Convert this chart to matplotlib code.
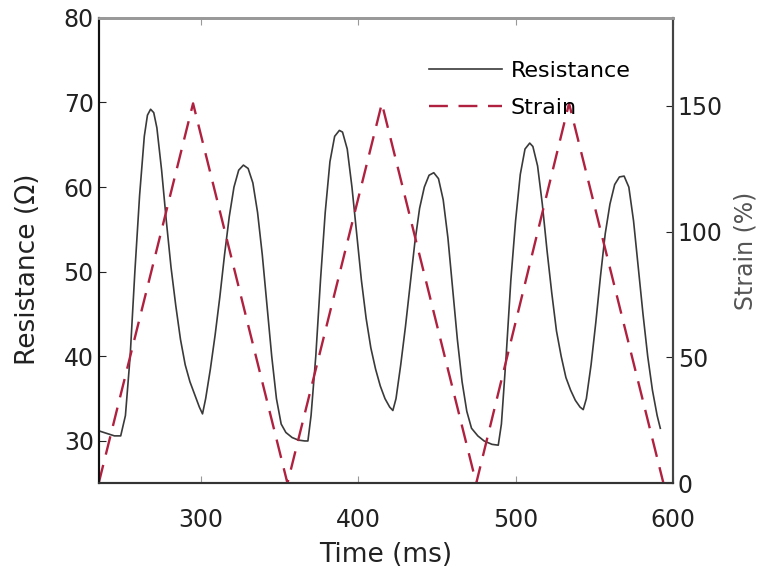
#!/usr/bin/env python3
import matplotlib as mpl
mpl.use('Agg')
import matplotlib.pyplot as plt

# resistance trace
res_time = [235, 240, 245, 249, 252, 255, 258, 261, 264, 266, 268, 270, 272,
            275, 278, 281, 284, 287, 290, 293, 296, 299, 301, 303, 306, 309,
            312, 315, 318, 321, 324, 327, 330, 333, 336, 339, 342, 345, 348,
            351, 354, 358, 362, 366, 368, 370, 373, 376, 379, 382, 385, 388,
            390, 393, 396, 399, 402, 405, 408, 411, 414, 417, 420, 422, 424,
            427, 430, 433, 436, 439, 442, 445, 448, 451, 454, 457, 460, 463,
            466, 469, 472, 476, 480, 485, 489, 491, 494, 497, 500, 503, 506,
            509, 511, 514, 517, 520, 523, 526, 529, 532, 535, 538, 541, 543,
            545, 548, 551, 554, 557, 560, 563, 566, 569, 572, 575, 578, 581,
            584, 587, 590, 592]
res_ohm = [31.2, 30.9, 30.6, 30.6, 33, 40, 50, 59, 66, 68.5, 69.2, 68.8, 67,
           62, 56, 50.5, 46, 42, 39, 37, 35.5, 34, 33.2, 35, 38.5, 42.5,
           47, 52, 56.5, 60, 62, 62.6, 62.2, 60.5, 57, 52, 46, 40, 35,
           32, 31, 30.4, 30.1, 30.0, 30.0, 33, 40, 49, 57, 63, 66, 66.7,
           66.5, 64.5, 60, 54.5, 49, 44.5, 41, 38.5, 36.5, 35, 34, 33.6, 35,
           39, 43.5, 48.5, 53.5, 57.5, 60, 61.4, 61.7, 61, 58.5, 54, 48, 42,
           37, 33.5, 31.5, 30.6, 30, 29.6, 29.5, 32, 40, 49, 56, 61.5, 64.5,
           65.2, 64.8, 62.5, 58, 52.5, 47.5, 43, 40, 37.5, 36, 34.8, 34, 33.7,
           35, 39, 44, 49.5, 54.5, 58, 60.3, 61.2, 61.3, 60, 56, 50.5, 45,
           40, 36, 33, 31.5]

# strain ramps (triangle corners)
strain_time = [235, 295, 355, 415, 475, 534, 594]
strain_pct = [0, 151, 0, 151, 0, 151, 0]

fig = plt.figure(figsize=(7.77, 5.76), dpi=100)
ax = fig.add_axes([0.127, 0.161, 0.739, 0.808])
ax2 = ax.twinx()

l1, = ax.plot(res_time, res_ohm, color='#3a3a3a', lw=1.2, label='Resistance')
l2, = ax2.plot(strain_time, strain_pct, color='#b0203f', lw=1.7,
               dashes=(8, 4.5), label='Strain')

ax.set_xlim(235, 600)
ax.set_ylim(25, 80)
ax2.set_ylim(0, 185)
ax.set_xticks([300, 400, 500, 600])
ax.set_yticks([30, 40, 50, 60, 70, 80])
ax2.set_yticks([0, 50, 100, 150])

fs = 17
ax.tick_params(direction='in', labelsize=fs, length=5, colors='#222222')
ax2.tick_params(direction='in', labelsize=fs, length=5, colors='#222222')
ax.tick_params(axis='x', top=True, color='#999999', pad=18)
ax.set_xlabel('Time (ms)', fontsize=19, color='#222222', labelpad=7)
ax.set_ylabel('Resistance (\u03a9)', fontsize=19, color='#222222')
ax.yaxis.set_label_coords(-0.1, 0.46)
ax2.set_ylabel('Strain (%)', fontsize=17, color='#555555', labelpad=8)

for a in (ax, ax2):
    a.spines['top'].set_color('#999999')
    a.spines['top'].set_linewidth(2)
    a.spines['left'].set_color('#111111')
    a.spines['bottom'].set_color('#333333')
    a.spines['right'].set_color('#444444')
    a.spines['right'].set_linewidth(1.5)
    a.spines['bottom'].set_linewidth(1.5)
    a.spines['left'].set_linewidth(1.5)

ax2.legend([l1, l2], ['Resistance', 'Strain'], loc='upper left',
           bbox_to_anchor=(0.54, 0.95), frameon=False, fontsize=16,
           handlelength=3.3, handletextpad=0.4, labelspacing=0.75)

plt.savefig('out.png', dpi=100)
plt.close()
